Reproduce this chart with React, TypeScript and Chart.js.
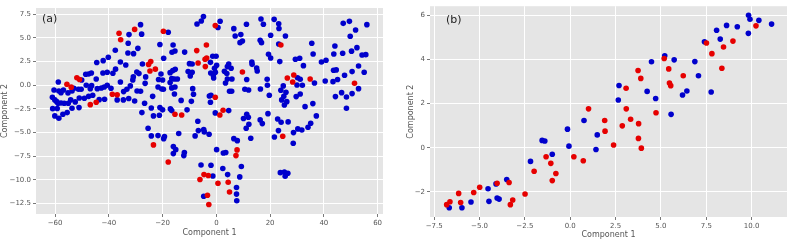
import React, { useEffect, useRef } from 'react';
import { Chart, registerables } from 'chart.js';
Chart.register(...registerables);

type Pt = [number, number];

// Panel (a): t-SNE style embedding, ~all samples
const aRed: Pt[] = [
  [-36.2, 5.5], [-35.6, 4.8], [-30.4, 5.9], [-25.2, 2.2], [-24.4, 2.5], [-24.7, 1.5], [-22.7, 1.7],
  [-51.9, 0.8], [-50.9, 0.6], [-55.6, 0.1], [-54.0, -0.2], [-38.7, -0.95], [-36.9, -1.0], [-46.9, -2.05],
  [-44.7, -1.8], [-23.4, -6.3], [-19.7, 5.7], [-0.4, 6.3], [-3.7, 4.25], [-7.3, 3.66], [-4.2, 2.74],
  [-3.6, 2.88], [-6.8, 2.35], [-4.1, 1.97], [9.7, 1.4], [-0.4, -1.27], [2.5, -2.64], [24.0, 4.25],
  [28.8, 1.09], [26.4, 0.77], [28.4, 0.35], [34.9, 0.66], [51.4, 0.21], [-15.4, -3.07], [-12.9, -3.14],
  [1.3, -3.14], [-17.9, -8.1], [7.7, -6.83], [7.3, -7.43], [-4.6, -9.44], [-3.0, -9.54], [-6.1, -9.96],
  [0.6, -10.35], [4.4, -10.25], [4.9, -11.27], [-3.3, -11.62], [-2.8, -12.6], [24.7, -5.39],
];

const aBlue: Pt[] = [
  [-28.2, 6.4], [-27.8, 5.4], [-32.5, 5.35], [-32.8, 4.43], [-32.9, 3.41], [-30.8, 3.34], [-29.2, 3.9],
  [-37.6, 3.69], [-35.7, 2.46], [-33.7, 2.14], [-37.5, 1.7], [-38.5, 1.26], [-40.6, 1.37], [-42.2, 1.3],
  [-40.2, 2.95], [-42.1, 2.6], [-44.5, 2.4], [-46.5, 1.3], [-47.5, 1.19], [-48.6, 1.16], [-50.1, 0.56],
  [-44.7, 0.66], [-48.4, 0.0], [-46.4, -0.04], [-44.3, -0.36], [-46.9, -0.36], [-50.3, -0.43], [-51.3, -0.43],
  [-53.0, -0.32], [-55.2, -0.81], [-53.7, -0.6], [-56.9, -0.5], [-58.6, -0.6], [-57.8, -0.8], [-58.8, 0.35],
  [-60.4, -0.5], [-61.0, -1.27], [-60.1, -1.55], [-59.4, -1.73], [-58.9, -1.9], [-57.8, -1.87], [-56.6, -1.9],
  [-55.1, -1.9], [-54.2, -1.55], [-52.5, -1.76], [-51.0, -1.34], [-49.1, -1.38], [-47.5, -1.17], [-46.0, -1.06],
  [-42.8, -0.29], [-41.7, -0.18], [-40.6, 0.0], [-39.2, -0.32], [-35.7, 0.35], [-34.5, -0.67], [-33.3, -0.43],
  [-32.0, -0.07], [-31.1, 0.56], [-29.6, 1.4], [-28.8, 1.23], [-30.9, 0.88], [-29.5, -0.6], [-28.2, -0.64],
  [-27.5, 2.25], [-26.3, 0.88], [-26.5, 0.2], [-36.9, -1.55], [-34.6, -1.55], [-32.6, -1.4], [-30.4, -1.66],
  [-26.7, -1.9], [-41.6, -1.48], [-43.6, -1.52],
  [-60.9, -2.47], [-59.2, -2.45], [-60.1, -3.24], [-58.6, -3.49], [-57.1, -3.07], [-55.5, -2.89], [-53.7, -2.43],
  [-51.1, -2.36], [-27.7, -2.89], [-23.4, -3.24], [-25.4, -4.54], [-24.2, -5.35],
  [-4.8, 7.25], [-5.6, 6.79], [-7.2, 6.47], [1.4, 6.76], [0.6, 6.1], [-17.9, 5.6], [6.5, 5.98], [11.2, 6.44],
  [16.6, 7.0], [17.5, 6.44], [7.0, 5.2], [9.1, 5.35], [9.7, 4.68], [8.8, 4.5], [16.3, 4.75], [16.8, 4.5],
  [-21.0, 4.3], [-16.1, 4.25], [-16.5, 3.48], [-15.4, 3.62], [-11.8, 3.5], [-19.6, 2.85], [-1.35, 3.06],
  [-0.1, 3.06], [-2.2, 2.42], [-10.0, 2.28], [-9.0, 2.25], [0.1, 2.1], [-0.7, 1.79], [4.6, 2.25], [4.1, 1.97],
  [5.5, 1.79], [13.2, 2.46], [13.3, 2.21], [15.0, 1.83], [15.2, 1.51], [-15.3, 1.68], [-16.2, 1.55], [-17.2, 1.33],
  [-20.6, 1.19], [-10.5, 1.44], [-9.0, 1.37], [-9.7, 0.98], [-2.1, 1.3], [-1.1, 1.0], [-0.36, 1.37], [-1.0, 0.77],
  [3.0, 1.47], [3.9, 1.23], [4.1, 0.66], [5.8, 0.66], [3.4, 0.24], [-16.6, 0.7], [-15.6, 0.66], [-14.5, 0.66],
  [-21.5, 0.6], [-20.0, 0.56], [-17.2, 0.28], [-21.7, -0.18], [-20.3, -0.39], [-19.7, -0.43], [-16.6, -0.28],
  [-15.4, -0.18], [-15.6, -0.92], [-8.8, -0.36], [4.9, -0.64], [5.7, -0.64], [10.6, -0.43], [12.0, -0.5],
  [11.3, 0.6], [16.4, -0.4], [-8.5, -0.95], [-9.3, -1.7], [-13.1, -1.6], [-2.0, -1.06], [-2.6, -1.13],
  [-2.2, -1.8], [-23.7, -1.17], [-21.0, -2.36], [-20.0, -2.6], [-17.1, -2.5], [-16.6, -2.68], [-10.9, -2.6],
  [4.6, -2.68],
  [-21.2, -3.17], [-24.2, -2.4], [-0.4, -2.92], [-6.9, -3.8], [-6.7, -4.79], [-4.7, -4.69], [-4.5, -4.93],
  [-2.7, -5.18], [-7.9, -5.35], [-21.7, -5.32], [-19.3, -5.42], [-19.6, -5.64], [-14.0, -5.1], [-16.0, -6.48],
  [-15.1, -6.8], [-16.0, -7.22], [-11.9, -7.11], [-12.1, -7.43], [0.1, -6.8], [2.6, -7.15], [3.5, -7.11],
  [6.5, -5.64], [7.8, -5.85], [12.8, -5.6], [11.3, -3.06], [11.9, -3.38], [10.1, -3.52], [16.3, -3.66],
  [17.1, -4.05], [12.1, -4.12], [11.1, -4.54], [-5.7, -8.42], [-2.0, -8.45], [9.3, -8.59], [2.4, -8.8],
  [-1.3, -9.58], [4.2, -9.44], [8.7, -9.68], [7.5, -10.8], [7.5, -11.5], [7.6, -12.2], [-4.7, -11.72],
  [21.5, 6.96], [23.2, 6.5], [23.3, 6.0], [25.7, 5.2], [20.2, 5.28], [23.2, 4.36], [35.5, 4.43], [36.0, 3.3],
  [19.4, 3.27], [20.2, 2.88], [23.6, 2.5], [29.4, 2.74], [31.0, 2.85], [32.4, 2.07], [39.1, 2.46], [40.8, 2.64],
  [44.1, 4.15], [43.7, 3.3], [47.0, 3.38], [50.3, 3.6], [52.3, 3.97], [54.2, 3.2], [55.6, 3.23], [47.2, 6.54],
  [49.5, 6.75], [51.8, 5.84], [49.8, 5.17], [56.0, 6.4], [52.9, 2.04], [55.0, 1.37], [50.5, 1.44], [47.7, 1.05],
  [43.6, 1.58], [44.6, 1.62], [43.4, 0.38], [45.1, 0.6], [40.5, 0.45], [36.5, 0.24], [30.2, 0.8], [31.2, 0.63],
  [30.0, 0.03], [32.0, 0.0], [18.9, 0.63], [19.0, 0.0], [24.9, -0.07], [24.0, -0.53], [25.9, -0.74], [25.1, -1.17],
  [19.7, -1.06], [24.3, -1.55], [26.2, -1.73], [25.3, -2.08], [29.7, -1.2], [31.2, -0.92], [33.0, -2.26],
  [35.9, -1.94], [44.3, -1.2], [46.6, -0.78], [48.4, -1.24], [50.5, -0.88], [52.9, -0.36], [48.4, -2.43],
  [19.2, -3.0], [22.8, -3.56], [24.1, -3.91], [26.7, -3.87], [23.1, -4.79], [21.6, -5.46], [28.7, -5.0],
  [30.3, -4.61], [31.8, -4.72], [34.1, -4.44], [35.1, -4.02], [37.2, -3.24], [28.6, -6.13], [23.8, -9.23],
  [25.3, -9.16], [26.6, -9.3], [25.6, -9.61],
];

// Panel (b): subset
const bRed: Pt[] = [
  [-6.81, -2.58], [-6.63, -2.45], [-6.15, -2.07], [-6.04, -2.48], [-5.32, -2.03], [-4.99, -1.79], [-4.03, -1.61],
  [-3.37, -1.58], [-3.30, -2.58], [-3.17, -2.37], [-2.49, -2.10], [-1.99, -1.07], [-1.33, -0.41], [-1.07, -0.71],
  [-0.99, -1.49], [-0.79, -1.17], [0.20, -0.41], [0.72, -0.59], [1.01, 1.76], [1.90, 1.23], [1.92, 0.75],
  [2.39, 0.12], [2.87, 0.99], [3.08, 2.69], [3.09, 1.76], [3.33, 1.29], [3.74, 3.50], [3.77, 1.09], [3.76, 0.42],
  [3.89, 3.14], [3.92, -0.02], [4.73, 1.58], [5.18, 4.04], [5.43, 3.57], [5.47, 2.93], [5.54, 2.81], [6.23, 3.26],
  [7.51, 4.74], [7.81, 4.26], [8.36, 3.60], [8.45, 4.56], [8.97, 4.83], [10.24, 5.52],
];

const bBlue: Pt[] = [
  [-6.67, -2.72], [-5.97, -2.72], [-5.47, -2.46], [-4.53, -1.86], [-4.48, -2.43], [-4.09, -1.64], [-4.03, -2.28],
  [-3.92, -2.33], [-3.50, -1.44], [-2.19, -0.62], [-1.55, 0.33], [-1.40, 0.30], [-0.99, -0.30], [-0.15, 0.84],
  [-0.07, 0.07], [0.76, 1.23], [1.42, -0.08], [1.49, 0.58], [2.65, 2.16], [2.69, 2.82], [4.24, 2.55], [4.48, 3.89],
  [4.71, 2.23], [5.21, 4.16], [5.56, 1.51], [5.73, 3.98], [6.19, 2.39], [6.43, 2.57], [6.87, 3.90], [7.07, 3.26],
  [7.40, 4.80], [7.77, 2.52], [8.07, 5.32], [8.27, 4.92], [8.62, 5.54], [9.21, 5.48], [9.82, 5.18], [9.83, 6.00],
  [9.91, 5.82], [10.40, 5.77], [11.10, 5.60],
];

const aXTicks = [-60, -40, -20, 0, 20, 40, 60];
const aYTicks = [-12.5, -10, -7.5, -5, -2.5, 0, 2.5, 5, 7.5];
const bXTicks = [-7.5, -5, -2.5, 0, 2.5, 5, 7.5, 10];
const bYTicks = [-2, 0, 2, 4, 6];

const xTitle = 'Component 1';
const yTitle = 'Component 2';

const FONT = "'DejaVu Sans', sans-serif";
const BLUE = '#0000cc';
const RED = '#e60000';
const TXT = '#555555';

const minus = (s: string) => s.replace('-', '\u2212');

const panelPlugin = {
  id: 'panel',
  beforeDraw(chart: any) {
    const { ctx, chartArea } = chart;
    ctx.save();
    ctx.fillStyle = '#e5e5e5';
    ctx.fillRect(chartArea.left, chartArea.top, chartArea.right - chartArea.left, chartArea.bottom - chartArea.top);
    ctx.restore();
  },
  afterDraw(chart: any, _a: any, opts: any) {
    const { ctx, chartArea } = chart;
    ctx.save();
    ctx.fillStyle = '#222';
    ctx.font = `11px ${FONT}`;
    ctx.textBaseline = 'middle';
    ctx.textAlign = 'left';
    ctx.fillText(opts.label, chartArea.left + opts.dx, chartArea.top + opts.dy);
    ctx.restore();
  },
};

function makeConfig(p: any) {
  const axis = (ticks: number[], min: number, max: number, dec: number, title: string, isX: boolean, size: number) => ({
    type: 'linear',
    min,
    max,
    afterBuildTicks: (s: any) => {
      s.ticks = ticks.map((v) => ({ value: v }));
    },
    afterFit: (s: any) => {
      if (isX) s.height = size;
      else s.width = size;
    },
    border: { display: false },
    grid: { color: '#ffffff', lineWidth: 1, drawTicks: true, tickLength: 3, tickColor: TXT, tickWidth: 0.8 },
    ticks: {
      color: TXT,
      font: { family: FONT, size: 7 },
      padding: 2,
      maxRotation: 0,
      autoSkip: false,
      callback: (v: any) => minus(Number(v).toFixed(dec)),
    },
    title: {
      display: true,
      text: title,
      color: TXT,
      font: { family: FONT, size: 8 },
      padding: isX ? { top: 0, bottom: p.xTitlePad } : { top: p.yTitlePad, bottom: 0 },
    },
  });
  return {
    type: 'scatter',
    data: {
      datasets: [
        { label: 'red', data: p.red.map(([x, y]: Pt) => ({ x, y })), backgroundColor: RED, borderWidth: 0, pointRadius: p.r, order: 0 },
        { label: 'blue', data: p.blue.map(([x, y]: Pt) => ({ x, y })), backgroundColor: BLUE, borderWidth: 0, pointRadius: p.r, order: 1 },
      ],
    },
    options: {
      responsive: false,
      animation: false,
      devicePixelRatio: 1,
      layout: { padding: p.pad },
      plugins: {
        legend: { display: false },
        tooltip: { enabled: false },
        panel: { label: p.label, dx: p.ldx, dy: p.ldy },
      },
      scales: {
        x: axis(p.xTicks, p.xMin, p.xMax, p.xDec, xTitle, true, p.xH),
        y: axis(p.yTicks, p.yMin, p.yMax, p.yDec, yTitle, false, p.yW),
      },
    },
    plugins: [panelPlugin],
  };
}

export default function App() {
  const refA = useRef<HTMLCanvasElement>(null);
  const refB = useRef<HTMLCanvasElement>(null);

  useEffect(() => {
    const a = new Chart(refA.current as any, makeConfig({
      red: aRed, blue: aBlue, r: 2.8,
      xTicks: aXTicks, yTicks: aYTicks, xMin: -67.1, xMax: 62.0, yMin: -13.6, yMax: 8.16, xDec: 0, yDec: 1,
      pad: { left: 0, right: 17, top: 8, bottom: 0 }, xH: 28, yW: 36, xTitlePad: 4, yTitlePad: 0,
      label: '(a)', ldx: 6, ldy: 11,
    }) as any);
    const b = new Chart(refB.current as any, makeConfig({
      red: bRed, blue: bBlue, r: 2.8,
      xTicks: bXTicks, yTicks: bYTicks, xMin: -7.73, xMax: 11.95, yMin: -3.14, yMax: 6.41, xDec: 1, yDec: 0,
      pad: { left: 0, right: 6, top: 5, bottom: 0 }, xH: 25, yW: 30, xTitlePad: 2, yTitlePad: 6,
      label: '(b)', ldx: 16, ldy: 14,
    }) as any);
    return () => {
      a.destroy();
      b.destroy();
    };
  }, []);

  return (
    <div style={{ position: 'absolute', left: 0, top: 0, width: 793, height: 242, background: '#fff' }}>
      <canvas ref={refA} width={400} height={242} style={{ position: 'absolute', left: 0, top: 0 }} />
      <canvas ref={refB} width={393} height={242} style={{ position: 'absolute', left: 400, top: 0 }} />
    </div>
  );
}
